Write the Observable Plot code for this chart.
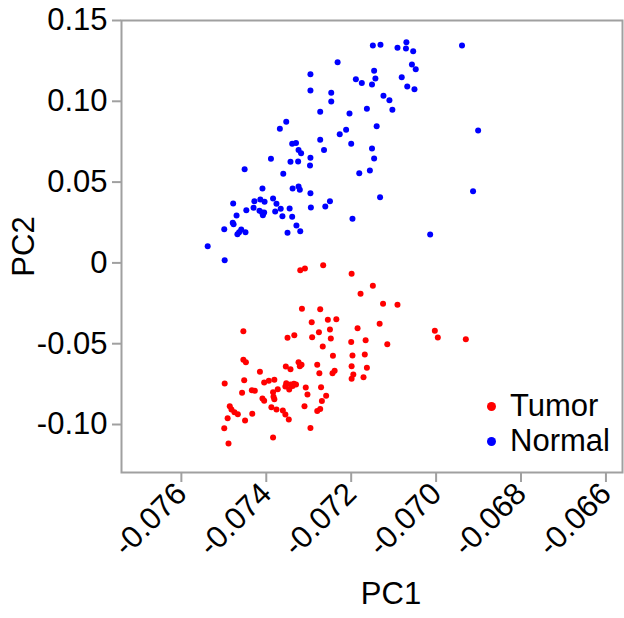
<!DOCTYPE html>
<html>
<head>
<meta charset="utf-8">
<script src="https://cdn.jsdelivr.net/npm/d3@7"></script>
<script src="https://cdn.jsdelivr.net/npm/@observablehq/plot@0.6"></script>
<style>
  html, body { margin: 0; padding: 0; background: #fff; }
  #wrap { position: relative; width: 624px; height: 618px; font-family: "Liberation Sans", Arial, sans-serif; }
  .leg { position: absolute; font-size: 31px; color: #000; display: flex; align-items: center; white-space: nowrap; }
  .leg span.dot { display: inline-block; width: 9px; height: 9px; border-radius: 50%; margin-right: 14px; }
</style>
</head>
<body>
<div id="wrap"></div>
<script>
// Series: PC1 / PC2 scores
const tumorPC1 = [-0.07320,-0.07309,-0.07266,-0.07199,-0.07149,-0.07178,-0.07125,-0.07091,-0.07316,-0.07273,
  -0.07293,-0.07255,-0.07235,-0.07250,-0.07276,-0.07292,-0.07248,-0.07185,-0.07133,-0.07003,
  -0.06996,-0.06930,-0.07334,-0.07350,-0.07454,-0.07267,-0.07200,-0.07166,-0.07115,-0.07243,
  -0.07197,-0.07168,-0.07199,-0.07163,-0.07195,-0.07199,-0.07171,-0.07280,-0.07275,-0.07244,
  -0.07239,-0.07324,-0.07321,-0.07317,-0.07354,-0.07343,-0.07454,-0.07448,-0.07415,-0.07452,
  -0.07498,-0.07405,-0.07394,-0.07381,-0.07353,-0.07355,-0.07343,-0.07335,-0.07330,-0.07338,
  -0.07346,-0.07307,-0.07271,-0.07457,-0.07434,-0.07427,-0.07373,-0.07384,-0.07303,-0.07259,
  -0.07269,-0.07409,-0.07405,-0.07383,-0.07381,-0.07388,-0.07376,-0.07361,-0.07355,-0.07347,
  -0.07310,-0.07280,-0.07273,-0.07486,-0.07482,-0.07475,-0.07467,-0.07491,-0.07433,-0.07450,
  -0.07499,-0.07489,-0.07384,-0.07296];
const tumorPC2 = [-0.0045,-0.0035,-0.0014,-0.0067,-0.0142,-0.0191,-0.0253,-0.0259,-0.0284,-0.0287,
  -0.0368,-0.0352,-0.0349,-0.0412,-0.0429,-0.0460,-0.0468,-0.0404,-0.0377,-0.0420,
  -0.0462,-0.0472,-0.0447,-0.0463,-0.0423,-0.0517,-0.0489,-0.0478,-0.0503,-0.0575,
  -0.0573,-0.0567,-0.0639,-0.0649,-0.0691,-0.0717,-0.0707,-0.0631,-0.0683,-0.0683,
  -0.0668,-0.0614,-0.0639,-0.0631,-0.0641,-0.0658,-0.0600,-0.0614,-0.0674,-0.0726,
  -0.0746,-0.0740,-0.0730,-0.0723,-0.0744,-0.0765,-0.0752,-0.0748,-0.0752,-0.0761,
  -0.0783,-0.0771,-0.0769,-0.0804,-0.0788,-0.0791,-0.0782,-0.0800,-0.0814,-0.0822,
  -0.0855,-0.0839,-0.0853,-0.0829,-0.0843,-0.0893,-0.0907,-0.0913,-0.0938,-0.0969,
  -0.0887,-0.0916,-0.0904,-0.0887,-0.0907,-0.0924,-0.0936,-0.0961,-0.0934,-0.0975,
  -0.1023,-0.1118,-0.1080,-0.1022];
const normalPC1 = [-0.07149,-0.07131,-0.07091,-0.07070,-0.07071,-0.07054,-0.06939,-0.07232,-0.07057,-0.07048,
  -0.07296,-0.07146,-0.07189,-0.07175,-0.07143,-0.07151,-0.07081,-0.07068,-0.07051,-0.07296,
  -0.07247,-0.07247,-0.07124,-0.07110,-0.07103,-0.07163,-0.07273,-0.07204,-0.07353,-0.07368,
  -0.07140,-0.07212,-0.06901,-0.07227,-0.07273,-0.07339,-0.07330,-0.07200,-0.07324,-0.07318,
  -0.07264,-0.07151,-0.07146,-0.07296,-0.07389,-0.07343,-0.07325,-0.07297,-0.07451,-0.07360,
  -0.07181,-0.07156,-0.07409,-0.07338,-0.07324,-0.07321,-0.07296,-0.07132,-0.06913,-0.07250,
  -0.07261,-0.07295,-0.07197,-0.07478,-0.07428,-0.07414,-0.07404,-0.07384,-0.07376,-0.07366,
  -0.07345,-0.07430,-0.07447,-0.07416,-0.07410,-0.07405,-0.07408,-0.07379,-0.07362,-0.07339,
  -0.07470,-0.07479,-0.07477,-0.07499,-0.07459,-0.07464,-0.07468,-0.07449,-0.07329,-0.07320,
  -0.07350,-0.07538,-0.07498,-0.07014];
const normalPC2 = [0.1345,0.1350,0.1331,0.1366,0.1327,0.1310,0.1345,0.1242,0.1228,0.1199,
  0.1168,0.1189,0.1137,0.1114,0.1141,0.1104,0.1149,0.1092,0.1075,0.1067,
  0.1053,0.0999,0.1034,0.1007,0.0947,0.0954,0.0935,0.0924,0.0873,0.0830,
  0.0846,0.0824,0.0819,0.0796,0.0762,0.0737,0.0742,0.0737,0.0699,0.0679,
  0.0699,0.0708,0.0646,0.0650,0.0644,0.0626,0.0627,0.0603,0.0580,0.0551,
  0.0555,0.0572,0.0460,0.0460,0.0473,0.0452,0.0431,0.0407,0.0444,0.0382,
  0.0349,0.0343,0.0273,0.0368,0.0382,0.0392,0.0378,0.0399,0.0366,0.0335,
  0.0337,0.0341,0.0326,0.0322,0.0312,0.0312,0.0295,0.0318,0.0289,0.0285,
  0.0293,0.0248,0.0239,0.0209,0.0207,0.0190,0.0178,0.0190,0.0231,0.0196,
  0.0186,0.0103,0.0017,0.0176];

// Axes
const xTicks = [-0.076, -0.074, -0.072, -0.070, -0.068, -0.066];
const xTickLabels = ["-0.076", "-0.074", "-0.072", "-0.070", "-0.068", "-0.066"];
const yTicks = [0.15, 0.10, 0.05, 0, -0.05, -0.10];
const yTickLabels = ["0.15", "0.10", "0.05", "0", "-0.05", "-0.10"];
const xDomain = [-0.07741, -0.06561];
const yDomain = [-0.1297, 0.15];
const groups = ["Tumor", "Normal"];
const groupColors = ["#ff0000", "#0000ff"];

const tumor = tumorPC1.map((x, i) => ({x, y: tumorPC2[i], g: "Tumor"}));
const normal = normalPC1.map((x, i) => ({x, y: normalPC2[i], g: "Normal"}));

const axisGray = "#a0a0a0";
const FS = 31;
const chart = Plot.plot({
  width: 624,
  height: 618,
  marginLeft: 121,
  marginTop: 20,
  marginRight: 2,
  marginBottom: 146,
  style: {fontFamily: "'Liberation Sans', Arial, sans-serif", fontSize: FS + "px", color: "#000", background: "#fff"},
  x: {domain: xDomain},
  y: {domain: yDomain},
  color: {domain: groups, range: groupColors},
  marks: [
    Plot.frame({stroke: axisGray, strokeWidth: 2}),
    Plot.axisX({ticks: xTicks, tickFormat: d => xTickLabels[xTicks.indexOf(d)], tickRotate: -45,
      tickSize: 10, tickPadding: 6, stroke: axisGray, strokeWidth: 2, fill: "#000", label: null, fontSize: FS}),
    Plot.axisY({ticks: yTicks, tickFormat: d => yTickLabels[yTicks.indexOf(d)],
      tickSize: 9, tickPadding: 5, stroke: axisGray, strokeWidth: 2, fill: "#000", label: null, fontSize: FS}),
    Plot.dot(tumor, {x: "x", y: "y", r: 3, fill: "g", stroke: null}),
    Plot.dot(normal, {x: "x", y: "y", r: 3, fill: "g", stroke: null}),
    Plot.text(["PC1"], {frameAnchor: "bottom", dx: 19, dy: 131, fontSize: FS, fill: "#000"}),
    Plot.text(["PC2"], {frameAnchor: "left", textAnchor: "middle", dx: -97, dy: 0, rotate: -90, fontSize: FS, fill: "#000"})
  ]
});
const wrap = document.getElementById("wrap");
wrap.appendChild(chart);

// Legend (inside plot, lower right)
const legendTops = [388, 423];
groups.forEach((g, i) => {
  const d = document.createElement("div");
  d.className = "leg";
  d.style.left = "487px";
  d.style.top = legendTops[i] + "px";
  d.innerHTML = `<span class="dot" style="background:${groupColors[i]}"></span>${g}`;
  wrap.appendChild(d);
});
</script>
</body>
</html>
